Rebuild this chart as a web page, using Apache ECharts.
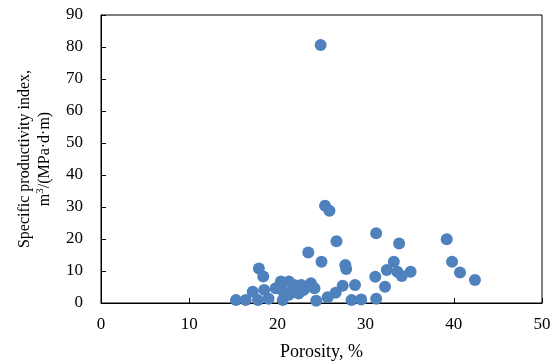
<!DOCTYPE html>
<html><head><meta charset="utf-8">
<script src="https://cdn.jsdelivr.net/npm/echarts@6/dist/echarts.min.js"></script>
<style>html,body{margin:0;padding:0;background:#fff}#c{width:557px;height:364px}</style>
</head><body><div id="c"></div>
<script>
const porosity = [24.9,25.4,25.9,23.5,26.7,25.0,31.2,39.2,33.8,39.8,40.7,42.4,33.2,32.4,33.6,34.1,35.1,31.1,32.2,31.2,27.7,27.8,28.8,27.4,26.6,25.7,24.4,28.4,29.5,17.9,18.4,15.3,16.4,17.2,17.8,19.0,18.5,20.4,21.3,21.9,22.7,23.8,19.8,20.6,21.7,23.0,24.2,20.6,21.3,22.4];
const productivity = [80.6,30.4,28.8,15.8,19.3,12.9,21.8,19.9,18.6,12.9,9.5,7.2,12.9,10.3,9.8,8.4,9.8,8.2,5.1,1.3,11.9,10.6,5.6,5.4,3.2,1.8,0.7,0.9,1.1,10.8,8.3,0.9,0.9,3.5,0.9,1.3,4.1,6.7,6.7,5.6,5.6,6.2,4.6,3.8,3.5,4.1,4.6,0.9,2.6,3.0];
const xTicks = {min:0, max:50, interval:10};
const yTicks = {min:0, max:90, interval:10};
const points = porosity.map((x,i)=>[x, productivity[i]]);
const font = 'Liberation Serif, Times New Roman, serif';
const chart = echarts.init(document.getElementById('c'));
chart.setOption({
  animation:false,
  grid:{left:101,right:15,top:15,bottom:61,containLabel:false,outerBoundsMode:'none',show:true,borderColor:'#000',borderWidth:1},
  xAxis:{type:'value',min:xTicks.min,max:xTicks.max,interval:xTicks.interval,
    name:'Porosity, %',nameLocation:'middle',nameGap:40,
    nameTextStyle:{fontFamily:font,fontSize:18,color:'#000'},
    axisLine:{lineStyle:{color:'#000',width:1}},
    axisTick:{inside:true,length:5,lineStyle:{color:'#000'}},
    axisLabel:{fontFamily:font,fontSize:17,color:'#000',margin:13},
    splitLine:{show:false}},
  yAxis:{type:'value',min:yTicks.min,max:yTicks.max,interval:yTicks.interval,
    name:'{a|Specific productivity index,}\n{a|m}{s|3}{a|/(MPa·d·m)}',nameLocation:'middle',nameGap:46,
    nameTextStyle:{fontFamily:font,fontSize:16,color:'#000',lineHeight:20,
      rich:{a:{fontFamily:font,fontSize:16,color:'#000',lineHeight:20},s:{fontFamily:font,fontSize:11,color:'#000',verticalAlign:'top',lineHeight:20,padding:[0,0,8,0]}}},
    axisLine:{lineStyle:{color:'#000',width:1}},
    axisTick:{inside:true,length:5,lineStyle:{color:'#000'}},
    axisLabel:{fontFamily:font,fontSize:17,color:'#000',margin:18},
    splitLine:{show:false}},
  series:[{type:'scatter',data:points,symbolSize:12,itemStyle:{color:'#4F81BD',opacity:1}}]
});
</script></body></html>
